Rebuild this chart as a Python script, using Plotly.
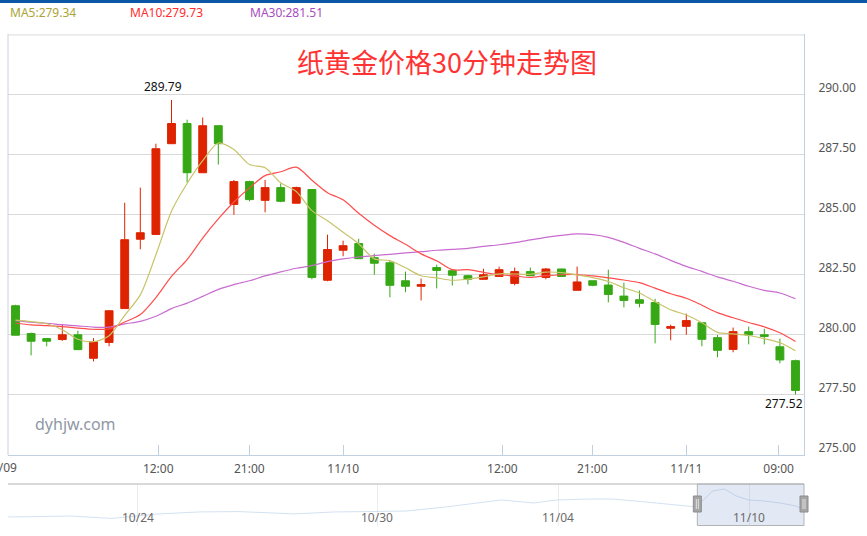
import plotly.graph_objects as go

# ---------------- data ----------------
idx = list(range(51))
opens = [281.22, 280.06, 279.85, 279.81, 280.01, 279.03, 279.69, 281.10, 283.99, 284.19,
         287.97, 288.81, 286.76, 288.72, 285.44, 286.39, 285.61, 286.14, 285.49, 286.06,
         282.28, 283.53, 283.81, 283.22, 283.01, 282.26, 282.03, 282.81, 282.68, 282.47,
         282.32, 282.44, 282.15, 282.64, 282.40, 282.75, 281.86, 282.26, 282.08, 281.62,
         281.47, 281.35, 280.28, 280.36, 280.51, 279.89, 279.40, 280.14, 280.01, 279.51,
         278.93]
highs = [281.26, 280.10, 279.87, 280.43, 280.18, 279.87, 281.04, 285.51, 286.14, 287.97,
         289.79, 288.97, 289.06, 288.72, 286.46, 286.43, 286.46, 286.31, 286.18, 286.06,
         284.18, 283.93, 284.01, 283.39, 283.11, 282.64, 282.35, 282.93, 282.75, 282.51,
         282.76, 282.85, 282.81, 282.81, 282.79, 282.76, 282.85, 282.26, 282.72, 282.18,
         281.85, 281.51, 280.43, 280.89, 280.51, 280.00, 280.31, 280.35, 280.26, 279.85,
         278.97]
lows = [279.99, 279.15, 279.53, 279.76, 279.38, 278.90, 279.53, 281.10, 283.57, 284.19,
        287.97, 286.35, 286.76, 287.10, 285.01, 285.57, 285.11, 285.53, 285.49, 282.32,
        282.24, 283.28, 283.18, 282.51, 281.57, 281.78, 281.44, 281.94, 282.06, 282.11,
        282.32, 282.44, 282.07, 282.49, 282.32, 282.44, 281.86, 282.03, 281.36, 281.15,
        281.15, 279.65, 279.78, 280.01, 279.53, 279.07, 279.28, 279.61, 279.61, 278.82,
        277.52]
closes = [279.99, 279.74, 279.74, 280.01, 279.39, 279.72, 281.01, 283.97, 284.26, 287.76,
          288.81, 286.76, 288.72, 287.97, 286.39, 285.64, 286.14, 285.57, 286.14, 282.40,
          283.56, 283.72, 283.18, 282.99, 282.07, 282.03, 282.10, 282.69, 282.49, 282.32,
          282.51, 282.72, 282.64, 282.47, 282.75, 282.44, 282.21, 282.07, 281.69, 281.44,
          281.32, 280.44, 280.35, 280.60, 279.82, 279.36, 280.14, 280.00, 279.94, 278.96,
          277.69]
ma5 = [280.62, 280.56, 280.47, 280.22, 279.82, 279.72, 279.97, 280.82, 281.67, 283.34,
       285.16, 286.31, 287.26, 288.00, 287.73, 287.10, 286.97, 286.34, 285.98, 285.18,
       284.76, 284.28, 283.80, 283.17, 283.10, 282.80, 282.47, 282.38, 282.28, 282.33,
       282.42, 282.55, 282.54, 282.53, 282.62, 282.60, 282.50, 282.39, 282.23, 281.97,
       281.75, 281.39, 281.05, 280.83, 280.51, 280.11, 280.05, 279.98, 279.85, 279.68,
       279.34]
ma10 = [280.49, 280.42, 280.39, 280.35, 280.29, 280.24, 280.25, 280.54, 280.85, 281.56,
        282.44, 283.14, 284.04, 284.84, 285.54, 286.13, 286.64, 286.80, 286.99, 286.45,
        285.93, 285.63, 285.07, 284.57, 284.14, 283.78, 283.38, 283.09, 282.72, 282.72,
        282.61, 282.51, 282.46, 282.40, 282.47, 282.51, 282.52, 282.46, 282.38, 282.29,
        282.18, 281.95, 281.72, 281.53, 281.24, 280.93, 280.72, 280.52, 280.34, 280.09,
        279.73]
ma30 = [280.60, 280.53, 280.49, 280.43, 280.38, 280.33, 280.33, 280.46, 280.57, 280.78,
        281.10, 281.33, 281.61, 281.90, 282.10, 282.26, 282.46, 282.63, 282.78, 282.89,
        283.06, 283.17, 283.25, 283.31, 283.36, 283.42, 283.47, 283.53, 283.57, 283.61,
        283.69, 283.76, 283.85, 283.96, 284.07, 284.15, 284.21, 284.18, 284.07, 283.86,
        283.61, 283.38, 283.11, 282.86, 282.65, 282.42, 282.24, 282.03, 281.86, 281.75,
        281.51]
ma_names = ["MA5", "MA10", "MA30"]

tick_pos = [-0.93, 9.15, 14.99, 21.01, 31.21, 36.97, 43.0, 48.92]
tick_text = ["11/09", "12:00", "21:00", "11/10", "12:00", "21:00", "11/11", "09:00"]
y_ticks = [275.0, 277.5, 280.0, 282.5, 285.0, 287.5, 290.0]

nav_t = [0, 8, 13, 19, 24, 29, 36, 41, 45, 50, 55, 59, 62, 66, 69, 73, 76, 80, 84,
         86.5, 88.5, 90, 91.5, 93, 95, 97, 99, 100]
nav_v = [273.6, 274.1, 272.8, 275.3, 276.4, 276.6, 275.3, 276.4, 276.6, 276.9, 279.2,
         281.4, 283.1, 281.4, 283.1, 283.6, 283.6, 282.0, 280.3, 279.2, 288.1, 289.2,
         285.3, 283.1, 282.5, 281.4, 279.7, 277.5]
nav_tick_pos = [16.3, 46.4, 69.1, 93.1]
nav_tick_text = ["10/24", "10/30", "11/04", "11/10"]
nav_sel = [86.6, 100]

title_text = "纸黄金价格30分钟走势图"
watermark = "dyhjw.com"

# ---------------- styling ----------------
W, H = 867, 536
ML, MR, MT, MB = 8, 63, 34, 10
PW, PH = W - ML - MR, H - MT - MB
RED = "#de2300"
GREEN = "#36a815"
MA_LINE = ["#c9c36a", "#ff4d4d", "#c86cd0"]
MA_TEXT = ["#aaa436", "#ff2a2a", "#a74cbd"]
FONT = "Noto Sans, DejaVu Sans, sans-serif"
AXC = "#c0d0e0"
GRID = "#d9d9d9"

def py(p):  # pixel y -> paper y
    return (H - MB - p) / PH

def px(p):  # pixel x -> paper x
    return (p - ML) / PW

main_dom = [py(455), 1]
nav_dom = [0, py(484)]
x_range = [-0.481, 50.545]
y_range = [275.0, 292.54]

def xpaper(v):  # main x value -> paper x
    return (v - x_range[0]) / (x_range[1] - x_range[0])

fig = go.Figure()
fig.add_trace(go.Candlestick(
    x=idx, open=opens, high=highs, low=lows, close=closes,
    increasing=dict(line=dict(color=RED, width=1), fillcolor=RED),
    decreasing=dict(line=dict(color=GREEN, width=1), fillcolor=GREEN),
    whiskerwidth=0, hoverinfo="skip", showlegend=False, xaxis="x", yaxis="y"))
for vals, col in zip([ma30, ma10, ma5], [MA_LINE[2], MA_LINE[1], MA_LINE[0]]):
    fig.add_trace(go.Scatter(x=idx, y=vals, mode="lines",
                             line=dict(color=col, width=1.2, shape="spline", smoothing=0.8),
                             hoverinfo="skip", showlegend=False, xaxis="x", yaxis="y"))
fig.add_trace(go.Scatter(x=nav_t, y=nav_v, mode="lines",
                         line=dict(color="rgba(175,200,230,0.55)", width=1),
                         hoverinfo="skip", showlegend=False, xaxis="x2", yaxis="y2"))

in_ticks = [(p, t) for p, t in zip(tick_pos, tick_text) if x_range[0] <= p <= x_range[1]]
out_ticks = [(p, t) for p, t in zip(tick_pos, tick_text) if not (x_range[0] <= p <= x_range[1])]

annotations = []
last_vals = [ma5[-1], ma10[-1], ma30[-1]]
for i, (n, v) in enumerate(zip(ma_names, last_vals)):
    annotations.append(dict(text=f"{n}:{v:.2f}", xref="paper", yref="paper",
                            x=px(8 + 120 * i), y=py(12), xanchor="left", yanchor="middle",
                            showarrow=False, font=dict(family=FONT, size=12, color=MA_TEXT[i])))
annotations.append(dict(text=title_text, xref="paper", yref="paper", x=px(447.5), y=py(62),
                        xanchor="center", yanchor="middle", showarrow=False,
                        font=dict(family="Noto Sans CJK SC", size=27, color="#ff3333")))
annotations.append(dict(text=watermark, xref="paper", yref="paper", x=px(33), y=py(424),
                        xanchor="left", yanchor="middle", showarrow=False,
                        font=dict(family=FONT, size=16, color="#8f98a6")))
imax = highs.index(max(highs))
annotations.append(dict(text=f"{highs[imax]:.2f}", x=idx[imax], y=highs[imax], xref="x", yref="y",
                        xanchor="center", yanchor="bottom", yshift=3, xshift=-9, showarrow=False,
                        font=dict(family=FONT, size=12, color="#111")))
imin = lows.index(min(lows))
annotations.append(dict(text=f"{lows[imin]:.2f}", x=idx[imin], y=lows[imin], xref="x", yref="y",
                        xanchor="right", yanchor="top", xshift=9, yshift=2, showarrow=False,
                        font=dict(family=FONT, size=12, color="#111")))
for p, t in out_ticks:
    annotations.append(dict(text=t, x=xpaper(p), y=py(467), xref="paper", yref="paper",
                            xanchor="center", yanchor="middle", showarrow=False,
                            font=dict(family=FONT, size=12, color="#555")))
for p, t in zip(nav_tick_pos, nav_tick_text):
    annotations.append(dict(text=t, x=p, y=py(517), xref="x2", yref="paper", xanchor="center",
                            yanchor="middle", showarrow=False,
                            font=dict(family=FONT, size=12, color="#6b6b6b")))

shapes = []
shapes.append(dict(type="rect", xref="paper", yref="paper", x0=px(0), x1=px(W), y0=py(3), y1=py(0),
                   fillcolor="#0b57a5", line=dict(width=0), layer="above"))
shapes.append(dict(type="line", xref="paper", yref="paper", x0=0, x1=0, y0=main_dom[0], y1=1,
                   line=dict(color="#c9d2dc", width=1)))
shapes.append(dict(type="line", xref="paper", yref="y", x0=0, x1=1,
                   y0=y_ticks[-1] + 2.5, y1=y_ticks[-1] + 2.5, line=dict(color=GRID, width=1)))
shapes.append(dict(type="line", xref="paper", yref="paper", x0=0, x1=1, y0=nav_dom[1], y1=nav_dom[1],
                   line=dict(color="#b3b3b3", width=1)))
shapes.append(dict(type="rect", xref="paper", yref="paper", x0=nav_sel[0] / 100, x1=nav_sel[1] / 100,
                   y0=0.001, y1=nav_dom[1], fillcolor="rgba(102,133,194,0.18)",
                   line=dict(color="#b3b3b3", width=1), layer="above"))
for s in nav_sel:
    shapes.append(dict(type="rect", xref="paper", yref="paper", xsizemode="pixel",
                       xanchor=s / 100, x0=-4, x1=4, y0=py(512), y1=py(496),
                       fillcolor="#a5a5a5", line=dict(color="#8c8c8c", width=1), layer="above"))
    for dx in (-1, 1):
        shapes.append(dict(type="line", xref="paper", yref="paper", xsizemode="pixel",
                           xanchor=s / 100, x0=dx, x1=dx, y0=py(509), y1=py(499),
                           line=dict(color="#e0e0e0", width=1), layer="above"))

fig.update_layout(
    width=W, height=H, margin=dict(l=ML, r=MR, t=MT, b=MB, pad=0, autoexpand=False),
    autosize=False,
    paper_bgcolor="white", plot_bgcolor="white", showlegend=False,
    boxgap=0.28, boxgroupgap=0.3,
    font=dict(family=FONT, size=12, color="#555"),
    xaxis=dict(domain=[0, 1], anchor="y", range=x_range, rangeslider=dict(visible=False),
               tickvals=[p for p, _ in in_ticks], ticktext=[t for _, t in in_ticks],
               ticks="inside", ticklen=10, tickwidth=1, tickcolor=AXC,
               showline=True, linecolor=AXC, linewidth=1, showgrid=False, zeroline=False,
               tickfont=dict(family=FONT, size=12, color="#555"), ticklabelstandoff=3,
               fixedrange=True, automargin=False),
    yaxis=dict(domain=main_dom, anchor="x", side="right", range=y_range,
               tickvals=y_ticks, ticktext=[f"{v:.2f}" for v in y_ticks],
               showgrid=True, gridcolor=GRID, gridwidth=1, zeroline=False,
               showline=True, linecolor=AXC, linewidth=1, ticks="",
               ticklabelstandoff=11, ticklabelshift=-7,
               tickfont=dict(family=FONT, size=12, color="#555"), fixedrange=True,
               automargin=False),
    xaxis2=dict(domain=[0, 1], anchor="y2", range=[0, 100], tickvals=nav_tick_pos,
                showticklabels=False, showgrid=True, gridcolor="#ececec", zeroline=False,
                showline=False, ticks="", fixedrange=True, automargin=False,
                rangeslider=dict(visible=False)),
    yaxis2=dict(domain=nav_dom, anchor="x2", range=[268.56, 292.0], showgrid=False,
                showticklabels=False, zeroline=False, showline=False, ticks="", fixedrange=True,
                automargin=False),
    annotations=annotations, shapes=shapes,
)

fig.write_html("out.html", config={"displayModeBar": False},
               post_script="document.body.style.margin='0';document.body.style.overflow='hidden';")
